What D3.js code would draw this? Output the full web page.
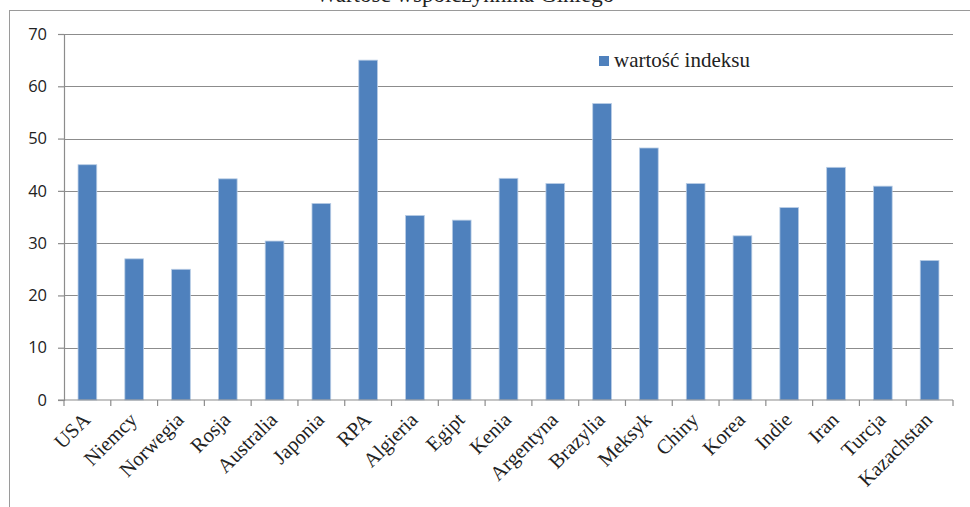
<!DOCTYPE html>
<html>
<head>
<meta charset="utf-8">
<script src="https://cdn.jsdelivr.net/npm/d3@7"></script>
<style>
    body { margin: 0; background: #fff; }
    svg { display: block; }
</style>
</head>
<body>
<script>
const categories = ['USA', 'Niemcy', 'Norwegia', 'Rosja', 'Australia', 'Japonia', 'RPA', 'Algieria',
    'Egipt', 'Kenia', 'Argentyna', 'Brazylia', 'Meksyk', 'Chiny', 'Korea', 'Indie', 'Iran', 'Turcja', 'Kazachstan'];
const values = [45, 27, 25, 42.3, 30.4, 37.6, 65, 35.3, 34.4, 42.4, 41.4, 56.7, 48.2, 41.4, 31.4, 36.8, 44.5, 40.9, 26.7];
const yTicks = [0, 10, 20, 30, 40, 50, 60, 70];
const seriesName = 'wartość indeksu';
const titleText = 'Wartość współczynnika Giniego';

const width = 970;
const height = 507;
const margin = { top: 34, right: 17, bottom: 107, left: 64 };
const serif = '"Liberation Serif", "Times New Roman", serif';

const svg = d3.select('body').append('svg')
    .attr('width', width)
    .attr('height', height);

// frame of the chart (only top and left edges are visible)
svg.append('line')
    .attr('x1', 9).attr('x2', width).attr('y1', 10.5).attr('y2', 10.5)
    .style('stroke', '#9a9a9a').style('stroke-width', 1);
svg.append('line')
    .attr('x1', 9.5).attr('x2', 9.5).attr('y1', 10).attr('y2', height)
    .style('stroke', '#9a9a9a').style('stroke-width', 1);

// title, mostly clipped off the top like in the original
svg.append('text')
    .attr('x', 465)
    .attr('y', 2)
    .attr('text-anchor', 'middle')
    .style('font-family', serif)
    .style('font-size', '23px')
    .style('fill', '#222')
    .text(titleText);

const chart = svg.append('g')
    .attr('transform', `translate(${margin.left}, ${margin.top})`);
const w = width - margin.left - margin.right;
const h = height - margin.top - margin.bottom;

const x = d3.scaleBand()
    .domain(categories)
    .range([0, w])
    .paddingInner(0.6)
    .paddingOuter(0.3);
const band = w / categories.length;

const y = d3.scaleLinear()
    .domain([0, 70])
    .range([h, 0]);

// gridlines
chart.selectAll('line.grid')
    .data(yTicks.filter(d => d > 0))
    .enter()
    .append('line')
    .classed('grid', true)
    .attr('x1', 0).attr('x2', w)
    .attr('y1', d => Math.round(y(d)) + 0.5)
    .attr('y2', d => Math.round(y(d)) + 0.5)
    .style('stroke', '#8c8c8c')
    .style('stroke-width', 1.2);

// bars
chart.selectAll('rect.bar')
    .data(values)
    .enter()
    .append('rect')
    .classed('bar', true)
    .attr('x', (d, i) => x(categories[i]))
    .attr('y', d => y(d))
    .attr('width', x.bandwidth())
    .attr('height', d => h - y(d))
    .style('fill', '#4f81bd')
    .style('stroke', '#b9cde5')
    .style('stroke-width', 0.8);

// y axis
const yAxis = chart.append('g')
    .call(d3.axisLeft(y).tickValues(yTicks).tickSize(6).tickPadding(11));
yAxis.select('.domain').style('stroke', '#8c8c8c').style('stroke-width', 1.2);
yAxis.selectAll('.tick line').style('stroke', '#8c8c8c').style('stroke-width', 1.2);
yAxis.selectAll('.tick text')
    .style('font-family', '"Open Sans", "Noto Sans", sans-serif')
    .style('font-size', '16.5px')
    .style('fill', '#222');

// x axis line + boundary ticks
const xAxis = chart.append('g').attr('transform', `translate(0, ${h})`);
xAxis.append('line')
    .attr('x1', -6).attr('x2', w)
    .attr('y1', 0).attr('y2', 0)
    .style('stroke', '#8c8c8c').style('stroke-width', 1.2);
xAxis.selectAll('line.xtick')
    .data(d3.range(categories.length + 1))
    .enter()
    .append('line')
    .classed('xtick', true)
    .attr('x1', d => d * band).attr('x2', d => d * band)
    .attr('y1', 0).attr('y2', 6)
    .style('stroke', '#8c8c8c').style('stroke-width', 1.2);

xAxis.selectAll('text.xlabel')
    .data(categories)
    .enter()
    .append('text')
    .classed('xlabel', true)
    .attr('text-anchor', 'end')
    .attr('transform', d => `translate(${x(d) + x.bandwidth() / 2 + 4}, 21) rotate(-45)`)
    .style('font-family', serif)
    .style('font-size', '20.5px')
    .style('fill', '#222')
    .text(d => d);

// legend
const legend = svg.append('g').attr('transform', 'translate(599, 56)');
legend.append('rect')
    .attr('width', 10).attr('height', 10)
    .style('fill', '#4f81bd');
legend.append('text')
    .attr('x', 15).attr('y', 11)
    .style('font-family', serif)
    .style('font-size', '21px')
    .style('fill', '#222')
    .text(seriesName);
</script>
</body>
</html>
